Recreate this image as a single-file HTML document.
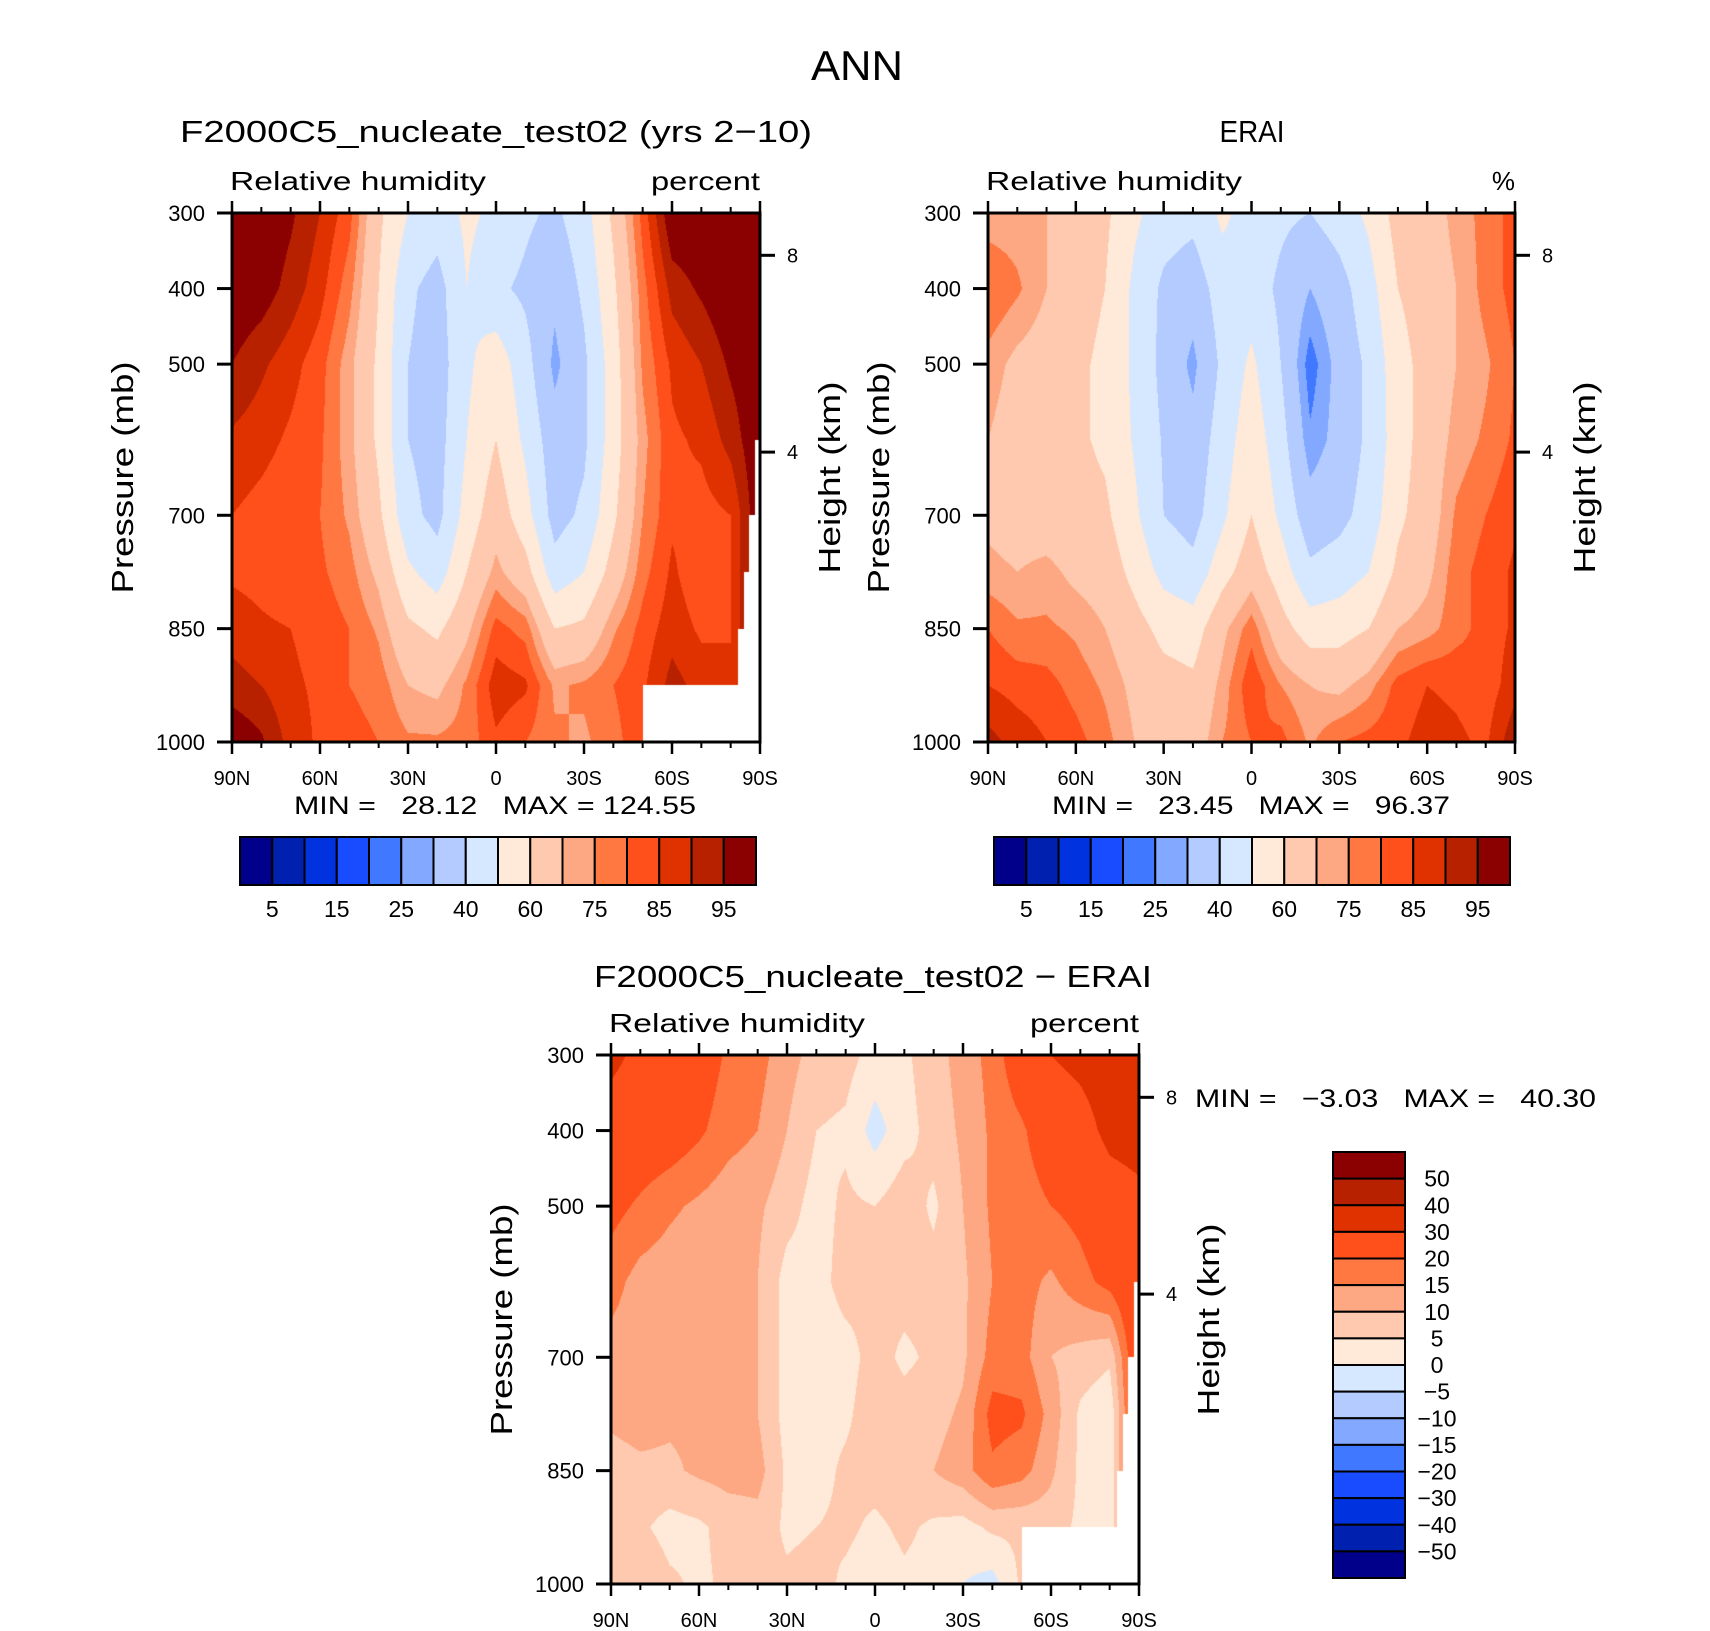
<!DOCTYPE html>
<html><head><meta charset="utf-8">
<style>
html,body{margin:0;padding:0;background:#fff;}
#root{position:relative;width:1710px;height:1631px;overflow:hidden;background:#fff;}
canvas{position:absolute;}
svg{position:absolute;left:0;top:0;}
text{font-family:"Liberation Sans","DejaVu Sans",sans-serif;fill:#000;}
</style></head>
<body>
<div id="root">
<canvas id="cv-model"></canvas>
<canvas id="cv-erai"></canvas>
<canvas id="cv-diff"></canvas>
<svg id="ov" width="1710" height="1631">
<text x="857" y="80" font-size="42" text-anchor="middle" textLength="92" lengthAdjust="spacingAndGlyphs">ANN</text>
</svg>
</div>
<script>
// ---- data ----
const lats = [90,80,70,60,50,40,30,20,10,0,-10,-20,-30,-40,-50,-60,-70,-80,-90];
const plev = [300,400,500,600,700,775,850,925,1000];

// model relative humidity (%) by pressure level
const model300 = [100,100,96,90,82,62,50,45,52,48,42,38,46,62,82,100,100,100,100];
const model400 = [100,98,93,87,77,60,42,36,50,42,38,32,42,58,78,92,96,100,100];
const model500 = [95,91,87,82,72,58,40,35,48,56,44,28,38,55,76,86,90,96,100];
const model600 = [89,87,84,81,72,58,40,36,50,60,48,34,38,55,73,84,86,92,null];
const model700 = [85,83,81,80,74,62,43,37,54,66,54,36,42,58,75,84,83,85,null];
const model775 = [84,83,81,81,77,68,52,45,60,72,64,44,50,64,78,86,81,null,null];
const model850 = [88,86,85,83,80,74,62,58,68,82,78,60,62,74,82,88,84,null,null];
const model925 = [92,90,86,84,80,78,70,68,76,88,86,74,76,80,84,92,88,null,null];
const model1000= [100,96,88,84,82,80,76,76,77,84,80,76,74,78,null,null,null,null,null];

// ERA-Interim relative humidity (%)
const erai300 = [72,72,70,66,62,52,45,43,52,46,42,40,45,52,64,66,72,77,82];
const erai400 = [80,76,70,64,60,48,38,34,45,45,38,30,36,46,60,65,70,77,82];
const erai500 = [73,68,66,62,58,48,37,28,42,52,40,22,33,42,56,64,70,74,80];
const erai600 = [70,66,65,62,58,49,39,33,45,56,44,26,33,42,55,65,72,76,81];
const erai700 = [68,66,65,64,62,52,40,36,48,60,48,34,37,44,58,65,76,80,84];
const erai775 = [72,70,72,68,66,57,47,43,56,66,55,42,45,50,62,68,78,82,86];
const erai850 = [80,76,76,74,70,64,57,55,68,78,64,55,56,60,70,73,78,82,86];
const erai925 = [85,83,82,78,74,68,64,62,72,84,75,70,68,73,82,85,84,82,88];
const erai1000= [92,88,85,82,77,70,68,65,75,80,82,74,80,82,84,87,86,84,94];

// difference model - ERAI (%)
const diff300 = [32,28,25,24,19,17,12,8,7,3,4,8,12,17,25,30,32,34,33];
const diff400 = [26,25,24,21,17,15,10,5,4,-2,3,7,11,16,19,25,27,32,33];
const diff500 = [22,19,16,14,12,11,7,3,6,5,8,4,10,16,17,20,22,26,28];
const diff600 = [17,13,12,11,11,10,3,3,7,6,7,7,9,15,17,14,18,22,null];
const diff700 = [13,12,11,11,11,10,3,2,3,7,4,6,9,17,17,10,8,6,null];
const diff775 = [11,12,11,11,11,10,3,3,4,8,7,8,11,22,21,13,4,1,null];
const diff850 = [8,9,9,11,12,12,4,3,6,7,8,10,13,19,17,11,4,null,null];
const diff925 = [7,6,3,4,7,8,4,5,6,4,6,4,3,6,6,7,4,null,null];
const diff1000= [8,10,6,4,6,7,6,7,4,2,4,3,0,-2,null,null,null,null,null];

// missing-data regions [lat from, p from]
const missLat0 = [-50,-82.6,-84.6,-86.4,-88.3];
const missP0   = [925,850,775,700,600];

const rhLevels   = [5,10,15,20,25,30,40,50,60,70,75,80,85,90,95];
const rhLabels   = [5,15,25,40,60,75,85,95];
const diffLevels = [-50,-40,-30,-20,-15,-10,-5,0,5,10,15,20,30,40,50];
const palette = ["#00008a","#0020b0","#0032e0","#1a4cff","#4078ff","#82a8ff","#b3cbff","#d6e8ff",
                 "#ffe9d8","#fec9ae","#fda882","#ff7842","#ff4f1a","#e03200","#b72100","#8b0000"];
const xTickLabels = ["90N","60N","30N","0","30S","60S","90S"];
const xTickLats = [90,60,30,0,-30,-60,-90];
const pTicks = [300,400,500,700,850,1000];
const zTicks = [8,4];

const modelGrid = [model300,model400,model500,model600,model700,model775,model850,model925,model1000];
const eraiGrid  = [erai300,erai400,erai500,erai600,erai700,erai775,erai850,erai925,erai1000];
const diffGrid  = [diff300,diff400,diff500,diff600,diff700,diff775,diff850,diff925,diff1000];

// ---- helpers ----
const NS="http://www.w3.org/2000/svg";
const svg=document.getElementById('ov');
function mk(tag,attrs,parent){const e=document.createElementNS(NS,tag);for(const k in attrs)e.setAttribute(k,attrs[k]);(parent||svg).appendChild(e);return e;}
function txt(s,attrs,parent){const e=mk('text',attrs,parent);e.textContent=s;return e;}

function fillGrid(g){
  const out=g.map(r=>r.slice());
  for(let j=0;j<lats.length;j++)for(let i=0;i<plev.length;i++){
    if(out[i][j]===null){out[i][j]= i>0?out[i-1][j]:out[i][j-1];}
  }
  return out;
}
function interp(g,lat,p){
  let fx=(lats[0]-lat)/(lats[0]-lats[lats.length-1])*(lats.length-1);
  let j=Math.min(Math.floor(fx),lats.length-2);let tx=fx-j;
  let i=0;while(i<plev.length-2&&p>plev[i+1])i++;
  let ty=(p-plev[i])/(plev[i+1]-plev[i]);ty=Math.max(0,Math.min(1,ty));
  const a=g[i][j],b=g[i][j+1],c=g[i+1][j],d=g[i+1][j+1];
  return a*(1-tx)*(1-ty)+b*tx*(1-ty)+c*(1-tx)*ty+d*tx*ty;
}
function hex(c){return [parseInt(c.substr(1,2),16),parseInt(c.substr(3,2),16),parseInt(c.substr(5,2),16)];}
const palRGB=palette.map(hex);

function drawPanel(id,grid,levels,box,masked){
  const cv=document.getElementById(id);
  const W=box.x1-box.x0,H=box.y1-box.y0;
  cv.width=W;cv.height=H;cv.style.left=box.x0+'px';cv.style.top=box.y0+'px';
  const ctx=cv.getContext('2d');const img=ctx.createImageData(W,H);
  const g=fillGrid(grid);
  const latOf=x=>90-180*(x+0.5)/W, pOf=y=>300+700*(y+0.5)/H;
  for(let y=0;y<H;y++){const p=pOf(y);
    for(let x=0;x<W;x++){const lat=latOf(x);
      let miss=false;
      if(masked){for(let k=0;k<missLat0.length;k++){if(lat<missLat0[k]&&p>missP0[k]){miss=true;break;}}}
      const o=(y*W+x)*4;
      if(miss){img.data[o]=255;img.data[o+1]=255;img.data[o+2]=255;img.data[o+3]=255;continue;}
      const v=interp(g,lat,p);let b=0;while(b<levels.length&&v>=levels[b])b++;
      const c=palRGB[b];img.data[o]=c[0];img.data[o+1]=c[1];img.data[o+2]=c[2];img.data[o+3]=255;
    }}
  ctx.putImageData(img,0,0);
}

function zToP(z){return 1013.25*Math.pow(1-2.25577e-5*z*1000,5.2559);}

function axes(box,name,opt){
  const G=mk('g',{});
  
  
  const W=box.x1-box.x0,H=box.y1-box.y0;
  const xs=lat=>box.x0+(90-lat)/180*W, ys=p=>box.y0+(p-300)/700*H;
  mk('rect',{x:box.x0,y:box.y0,width:W,height:H,fill:'none',stroke:'#000','stroke-width':3},G);
  for(let lat=90;lat>=-90;lat-=10){
    const major=lat%30===0,L=major?12:6,x=xs(lat);
    mk('line',{x1:x,x2:x,y1:box.y0,y2:box.y0-L,stroke:'#000','stroke-width':major?2.5:2},G);
    mk('line',{x1:x,x2:x,y1:box.y1,y2:box.y1+L,stroke:'#000','stroke-width':major?2.5:2},G);
  }
  xTickLats.forEach((lat,k)=>{txt(xTickLabels[k],{x:xs(lat),y:box.y1+43,'font-size':20,'text-anchor':'middle'},G);});
  pTicks.forEach(p=>{const y=ys(p);
    mk('line',{x1:box.x0-15,x2:box.x0,y1:y,y2:y,stroke:'#000','stroke-width':3},G);
    txt(String(p),{x:box.x0-27,y:y+8,'font-size':22,'text-anchor':'end'},G);});
  zTicks.forEach(z=>{const y=ys(zToP(z));
    mk('line',{x1:box.x1,x2:box.x1+15,y1:y,y2:y,stroke:'#000','stroke-width':3},G);
    txt(String(z),{x:box.x1+27,y:y+7,'font-size':20},G);});
  const pl=txt('Pressure (mb)',{x:0,y:0,'font-size':31,'text-anchor':'middle',textLength:232,lengthAdjust:'spacingAndGlyphs',transform:`translate(${box.x0-99},${(box.y0+box.y1)/2}) rotate(-90)`},G);
  
  const hl=txt('Height (km)',{x:0,y:0,'font-size':31,'text-anchor':'middle',textLength:192,lengthAdjust:'spacingAndGlyphs',transform:`translate(${box.x1+80},${(box.y0+box.y1)/2}) rotate(-90)`},G);
  
  const rh=txt('Relative humidity',{x:box.x0-2,y:box.y0-23,'font-size':26,textLength:256,lengthAdjust:'spacingAndGlyphs'},G);
  
  const un=txt(opt.units,{x:box.x1,y:box.y0-23,'font-size':26,'text-anchor':'end'},G);
  if(opt.units==='percent'){un.setAttribute('textLength',109);un.setAttribute('lengthAdjust','spacingAndGlyphs');}
  
  const t=txt(opt.title,{x:opt.tx,y:opt.ty,'font-size':31,'text-anchor':'middle'},G);
  if(opt.tl){t.setAttribute('textLength',opt.tl);t.setAttribute('lengthAdjust','spacingAndGlyphs');}
  
}

function hbar(x0,x1,y0,y1,name){
  const G=mk('g',{});
  const n=palette.length,w=(x1-x0)/n;
  palette.forEach((c,k)=>{const r=mk('rect',{x:x0+k*w,y:y0,width:w,height:y1-y0,fill:c,stroke:'#000','stroke-width':2},G);
    });
  rhLevels.forEach((lv,k)=>{if(rhLabels.indexOf(lv)>=0){txt(String(lv),{x:x0+(k+1)*w,y:y1+32,'font-size':23,'text-anchor':'middle'},G);}});
}
function vbar(x0,x1,y0,y1,name){
  const G=mk('g',{});
  const n=palette.length,h=(y1-y0)/n;
  palette.slice().reverse().forEach((c,k)=>{const r=mk('rect',{x:x0,y:y0+k*h,width:x1-x0,height:h,fill:c,stroke:'#000','stroke-width':2},G);
    });
  diffLevels.slice().reverse().forEach((lv,k)=>{
    txt(lv<0?'\u2212'+Math.abs(lv):String(lv),{x:1437,y:y0+(k+1)*h+8,'font-size':23,'text-anchor':'middle'},G);});
}

const BL={x0:232,x1:760,y0:213,y1:742};
const BR={x0:988,x1:1515,y0:213,y1:742};
const BB={x0:611,x1:1139,y0:1055,y1:1584};

drawPanel('cv-model',modelGrid,rhLevels,BL,true);
drawPanel('cv-erai',eraiGrid,rhLevels,BR,false);
drawPanel('cv-diff',diffGrid,diffLevels,BB,true);

axes(BL,'model',{units:'percent',title:'F2000C5_nucleate_test02 (yrs 2\u221210)',tx:496,ty:142,tl:632});
axes(BR,'erai',{units:'%',title:'ERAI',tx:1252,ty:142,tl:65});
axes(BB,'diff',{units:'percent',title:'F2000C5_nucleate_test02 \u2212 ERAI',tx:873,ty:987,tl:558});

hbar(240,756,837,885,'model-colorbar');
hbar(994,1510,837,885,'erai-colorbar');
vbar(1333,1405,1152,1578,'diff-colorbar');

const m1=txt('MIN =   28.12   MAX = 124.55',{x:294,y:814,'font-size':25,textLength:402,lengthAdjust:'spacingAndGlyphs'});

m1.style.whiteSpace='pre';
const m2=txt('MIN =   23.45   MAX =   96.37',{x:1052,y:814,'font-size':25,textLength:398,lengthAdjust:'spacingAndGlyphs'});

m2.style.whiteSpace='pre';
const m3=txt('MIN =   \u22123.03   MAX =   40.30',{x:1195,y:1107,'font-size':25,textLength:401,lengthAdjust:'spacingAndGlyphs'});

m3.style.whiteSpace='pre';
</script>
</body></html>
